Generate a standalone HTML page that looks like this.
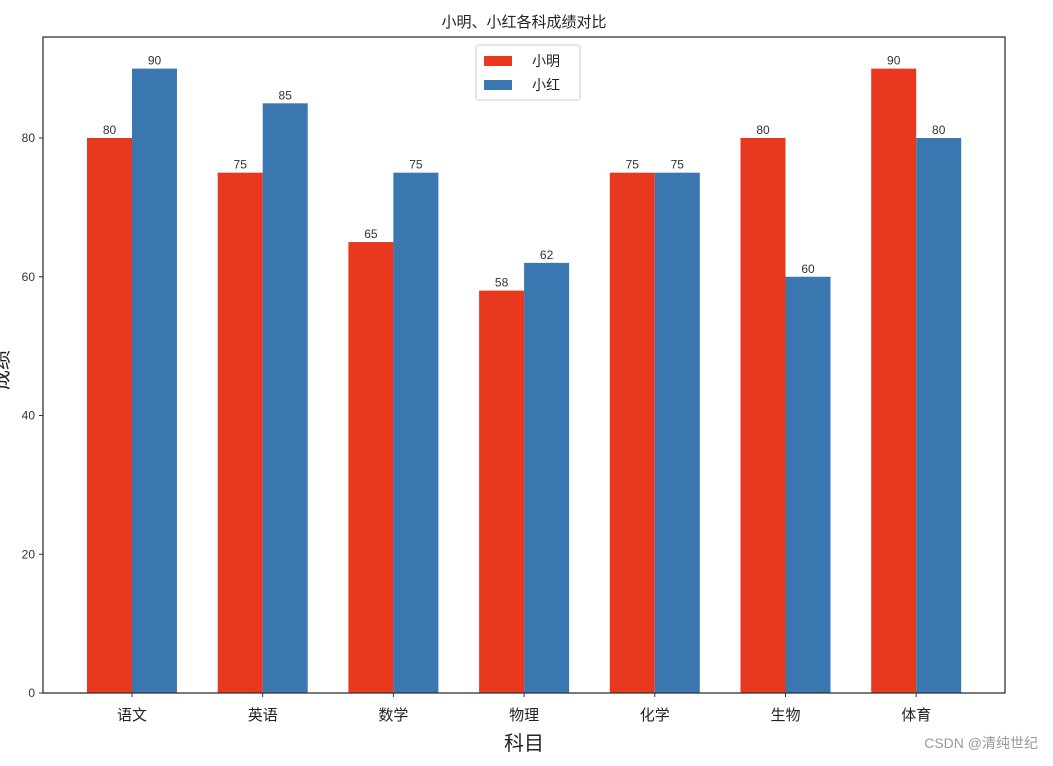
<!DOCTYPE html>
<html><head><meta charset="utf-8"><style>body{margin:0;background:#fff}</style></head><body>
<svg width="1053" height="761" xmlns="http://www.w3.org/2000/svg" font-family="Liberation Sans, Noto Sans CJK SC, sans-serif">
<rect width="1053" height="761" fill="#fff"/>
<text x="524" y="27" font-size="15" text-anchor="middle" fill="#222">小明、小红各科成绩对比</text>
<g id="bars"></g>
<rect x="43" y="37" width="962" height="656" fill="none" stroke="#333" stroke-width="1.3"/>
<text transform="translate(8,370) rotate(-90)" font-size="20" text-anchor="middle" fill="#222">成绩</text>
<text x="524" y="750" font-size="20" text-anchor="middle" fill="#222">科目</text>
<text x="1038" y="748" font-size="14" text-anchor="end" fill="#999">CSDN @清纯世纪</text>
<g id="yt" font-size="12" fill="#333" text-anchor="end"></g>
<g id="xt" font-size="15" fill="#222" text-anchor="middle"></g>
<rect x="476" y="45" width="104" height="55" fill="#fff" stroke="#ccc" rx="2"/>
<rect x="484" y="56" width="28" height="10" fill="#e8391f"/>
<text x="532" y="66" font-size="14" fill="#222">小明</text>
<rect x="484" y="80" width="28" height="10" fill="#3a76b0"/>
<text x="532" y="90" font-size="14" fill="#222">小红</text>
</svg>
<script>
var ns="http://www.w3.org/2000/svg";
function el(p,t,a,txt){var e=document.createElementNS(ns,t);for(var k in a)e.setAttribute(k,a[k]);if(txt!=null)e.textContent=txt;document.getElementById(p).appendChild(e);}
var a=[80,75,65,58,75,80,90],b=[90,85,75,62,75,60,80],n=["语文","英语","数学","物理","化学","生物","体育"];
var s=6.9375,y0=693;
for(var i=0;i<7;i++){var c=132+i*130.7;
el("bars","rect",{x:c-45,y:y0-a[i]*s,width:45,height:a[i]*s,fill:"#e8391f"});
el("bars","rect",{x:c,y:y0-b[i]*s,width:45,height:b[i]*s,fill:"#3a76b0"});
el("bars","text",{x:c-22.5,y:y0-a[i]*s-4,"font-size":12,"text-anchor":"middle",fill:"#333"},a[i]);
el("bars","text",{x:c+22.5,y:y0-b[i]*s-4,"font-size":12,"text-anchor":"middle",fill:"#333"},b[i]);
el("xt","line",{x1:c,x2:c,y1:693,y2:697,stroke:"#333"});
el("xt","text",{x:c,y:720},n[i]);}
for(var v=0;v<=80;v+=20){var y=y0-v*s;el("yt","line",{x1:39,x2:43,y1:y,y2:y,stroke:"#333"});el("yt","text",{x:35,y:y+4},v);}
</script>
</body></html>
